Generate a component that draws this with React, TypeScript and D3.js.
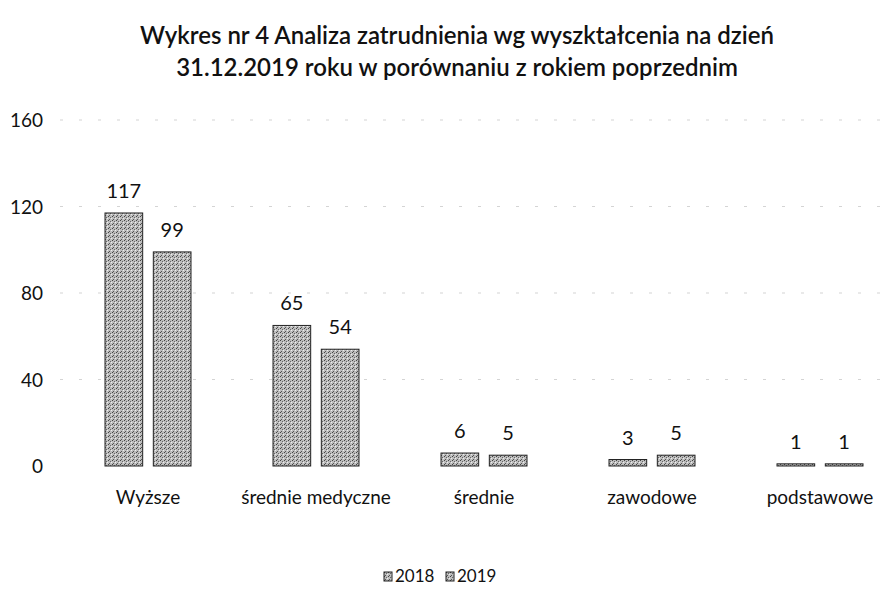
import React, { useEffect, useRef } from "react";
import * as d3 from "d3";

const categories = ["Wyższe", "średnie medyczne", "średnie", "zawodowe", "podstawowe"];
const seriesNames = ["2018", "2019"];
const values2018 = [117, 65, 6, 3, 1];
const values2019 = [99, 54, 5, 5, 1];
const yTicks = [0, 40, 80, 120, 160];
const titleLines = [
  "Wykres nr 4 Analiza zatrudnienia wg wyszktałcenia na dzień",
  "31.12.2019 roku w porównaniu z rokiem poprzednim",
];

const W = 884;
const H = 594;
const FONT = "Lato, 'Open Sans', sans-serif";

const App: React.FC = () => {
  const ref: any = useRef();

  useEffect(() => {
    const svg = d3.select(ref.current);
    svg.selectAll("*").remove();

    // speckled grey fill, like the scanned bars
    const defs = svg.append("defs");
    const pat = defs
      .append("pattern")
      .attr("id", "speckle")
      .attr("width", 4)
      .attr("height", 4)
      .attr("patternUnits", "userSpaceOnUse");
    pat.append("rect").attr("width", 4).attr("height", 4).attr("fill", "#bdbdbd");
    pat.append("rect").attr("x", 0).attr("y", 0).attr("width", 1).attr("height", 1).attr("fill", "#444");
    pat.append("rect").attr("x", 2).attr("y", 1).attr("width", 1).attr("height", 1).attr("fill", "#666");
    pat.append("rect").attr("x", 1).attr("y", 3).attr("width", 1).attr("height", 1).attr("fill", "#555");
    pat.append("rect").attr("x", 3).attr("y", 2).attr("width", 1).attr("height", 1).attr("fill", "#eee");

    const x0 = d3.scaleBand().domain(categories).range([64, 904]).paddingInner(0).paddingOuter(0);
    const x1 = d3
      .scaleBand()
      .domain(seriesNames)
      .range([x0.bandwidth() / 2 - 43, x0.bandwidth() / 2 + 43])
      .paddingInner(0.22);
    const y = d3.scaleLinear().domain([0, 160]).range([466, 120]);

    // faint gridlines
    svg
      .append("g")
      .selectAll("line")
      .data(yTicks.slice(1))
      .join("line")
      .attr("x1", 60)
      .attr("x2", W)
      .attr("y1", (d) => y(d))
      .attr("y2", (d) => y(d))
      .attr("stroke", "#aaa")
      .attr("stroke-width", 1)
      .attr("stroke-dasharray", "3 16")
      .attr("opacity", 0.5);

    // y axis labels
    svg
      .append("g")
      .selectAll("text")
      .data(yTicks)
      .join("text")
      .attr("x", 43)
      .attr("y", (d) => y(d) + 7)
      .attr("text-anchor", "end")
      .attr("font-family", FONT)
      .attr("font-size", 19)
      .attr("fill", "#111")
      .text((d) => d);

    const rows = categories.map((c, i) => ({ c, v: [values2018[i], values2019[i]] }));

    const groups = svg
      .append("g")
      .selectAll("g")
      .data(rows)
      .join("g")
      .attr("transform", (d) => `translate(${x0(d.c)},0)`);

    groups
      .selectAll("rect")
      .data((d) => d.v.map((v, j) => ({ s: seriesNames[j], v })))
      .join("rect")
      .attr("x", (d) => x1(d.s)!)
      .attr("width", x1.bandwidth())
      .attr("y", (d) => y(d.v))
      .attr("height", (d) => y(0) - y(d.v))
      .attr("fill", "url(#speckle)")
      .attr("stroke", "#222")
      .attr("stroke-width", 1);

    groups
      .selectAll("text.val")
      .data((d) => d.v.map((v, j) => ({ s: seriesNames[j], v })))
      .join("text")
      .attr("class", "val")
      .attr("x", (d) => x1(d.s)! + x1.bandwidth() / 2)
      .attr("y", (d) => y(d.v) - 15)
      .attr("text-anchor", "middle")
      .attr("font-family", FONT)
      .attr("font-size", 20)
      .attr("fill", "#111")
      .text((d) => d.v);

    groups
      .append("text")
      .attr("x", x0.bandwidth() / 2)
      .attr("y", 504)
      .attr("text-anchor", "middle")
      .attr("font-family", FONT)
      .attr("font-size", 19)
      .attr("fill", "#111")
      .text((d) => d.c);

    // title
    svg
      .append("g")
      .selectAll("text")
      .data(titleLines)
      .join("text")
      .attr("x", 457)
      .attr("y", (d, i) => 44 + i * 32)
      .attr("text-anchor", "middle")
      .attr("font-family", FONT)
      .attr("font-size", 24)
      .attr("font-weight", 600)
      .attr("fill", "#111")
      .text((d) => d);

    // legend
    const leg = svg
      .append("g")
      .selectAll("g")
      .data(seriesNames)
      .join("g")
      .attr("transform", (d, i) => `translate(${384 + i * 62},572)`);
    leg
      .append("rect")
      .attr("width", 8)
      .attr("height", 9)
      .attr("fill", "url(#speckle)")
      .attr("stroke", "#222");
    leg
      .append("text")
      .attr("x", 11)
      .attr("y", 10)
      .attr("font-family", FONT)
      .attr("font-size", 17)
      .attr("fill", "#111")
      .text((d) => d);
  }, []);

  return (
    <svg
      ref={ref}
      width={W}
      height={H}
      style={{ position: "absolute", left: 0, top: 0, background: "#fff" }}
    />
  );
};

export default App;
